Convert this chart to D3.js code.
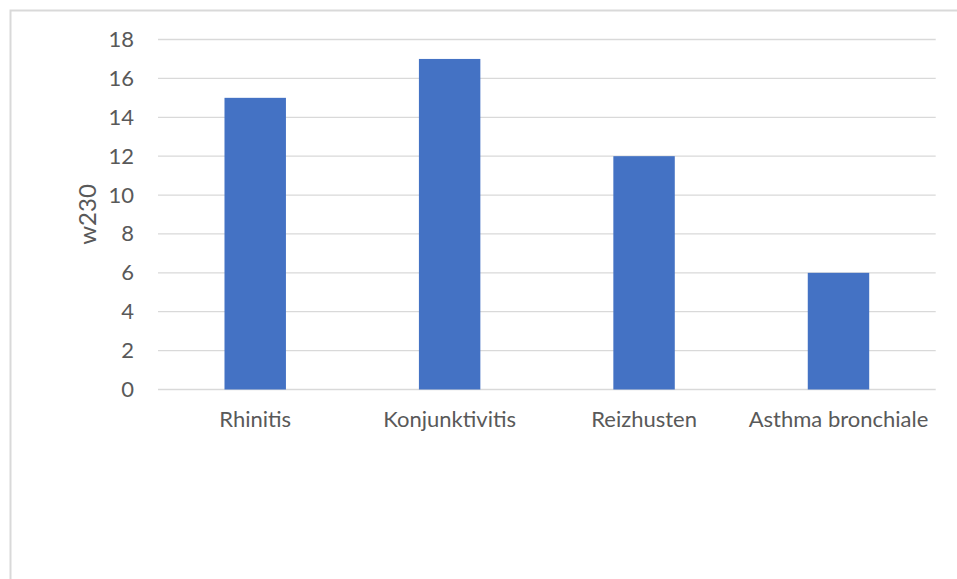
<!DOCTYPE html>
<html>
<head>
<meta charset="utf-8">
<script src="https://cdn.jsdelivr.net/npm/d3@7"></script>
<style>
  html, body { margin: 0; padding: 0; background: #ffffff; }
  svg { display: block; }
  text { font-family: Lato, "Open Sans", sans-serif; fill: #595959; }
</style>
</head>
<body>
<svg id="chart" width="957" height="579"></svg>
<script>
// Data
const categories = ["Rhinitis", "Konjunktivitis", "Reizhusten", "Asthma bronchiale"];
const values = [15, 17, 12, 6];
const yTicks = [0, 2, 4, 6, 8, 10, 12, 14, 16, 18];
const yTitle = "w230";

const svg = d3.select("#chart");

// Chart frame (extends past the right and bottom edges of the view)
svg.append("rect")
  .attr("x", 10.5).attr("y", 10.5)
  .attr("width", 1000).attr("height", 700)
  .attr("fill", "#ffffff")
  .attr("stroke", "#d9d9d9").attr("stroke-width", 2);

const plot = { left: 158, right: 935.7, top: 39.5, bottom: 389.5 };

const x = d3.scaleBand()
  .domain(categories)
  .range([plot.left, plot.right])
  .paddingInner(0.684)
  .paddingOuter(0.342);

const y = d3.scaleLinear()
  .domain([0, 18])
  .range([plot.bottom, plot.top]);

// Gridlines
svg.append("g")
  .selectAll("line")
  .data(yTicks)
  .join("line")
  .attr("x1", plot.left).attr("x2", plot.right)
  .attr("y1", d => y(d)).attr("y2", d => y(d))
  .attr("stroke", "#d9d9d9").attr("stroke-width", 1.3);

// Bars
svg.append("g")
  .selectAll("rect")
  .data(values)
  .join("rect")
  .attr("x", (d, i) => x(categories[i]))
  .attr("width", x.bandwidth())
  .attr("y", d => y(d))
  .attr("height", d => y(0) - y(d))
  .attr("fill", "#4472c4");

const labelFont = "Lato, 'Open Sans', sans-serif";

// Y axis labels
const yAxis = d3.axisLeft(y).tickValues(yTicks).tickSize(0).tickPadding(24);
const gy = svg.append("g").attr("transform", `translate(${plot.left},0)`).call(yAxis);
gy.select(".domain").remove();
gy.selectAll("text").style("font-size", "22px").attr("fill", "#595959")
  .style("font-family", labelFont);

// X axis labels
const xAxis = d3.axisBottom(x).tickSize(0).tickPadding(22);
const gx = svg.append("g").attr("transform", `translate(0,${plot.bottom})`).call(xAxis);
gx.select(".domain").remove();
gx.selectAll("text").style("font-size", "22px").attr("fill", "#595959")
  .style("font-family", labelFont);

// Y axis title
svg.append("text")
  .attr("transform", `translate(96,${(plot.top + plot.bottom) / 2}) rotate(-90)`)
  .attr("text-anchor", "middle")
  .style("font-size", "24px")
  .text(yTitle);
</script>
</body>
</html>
